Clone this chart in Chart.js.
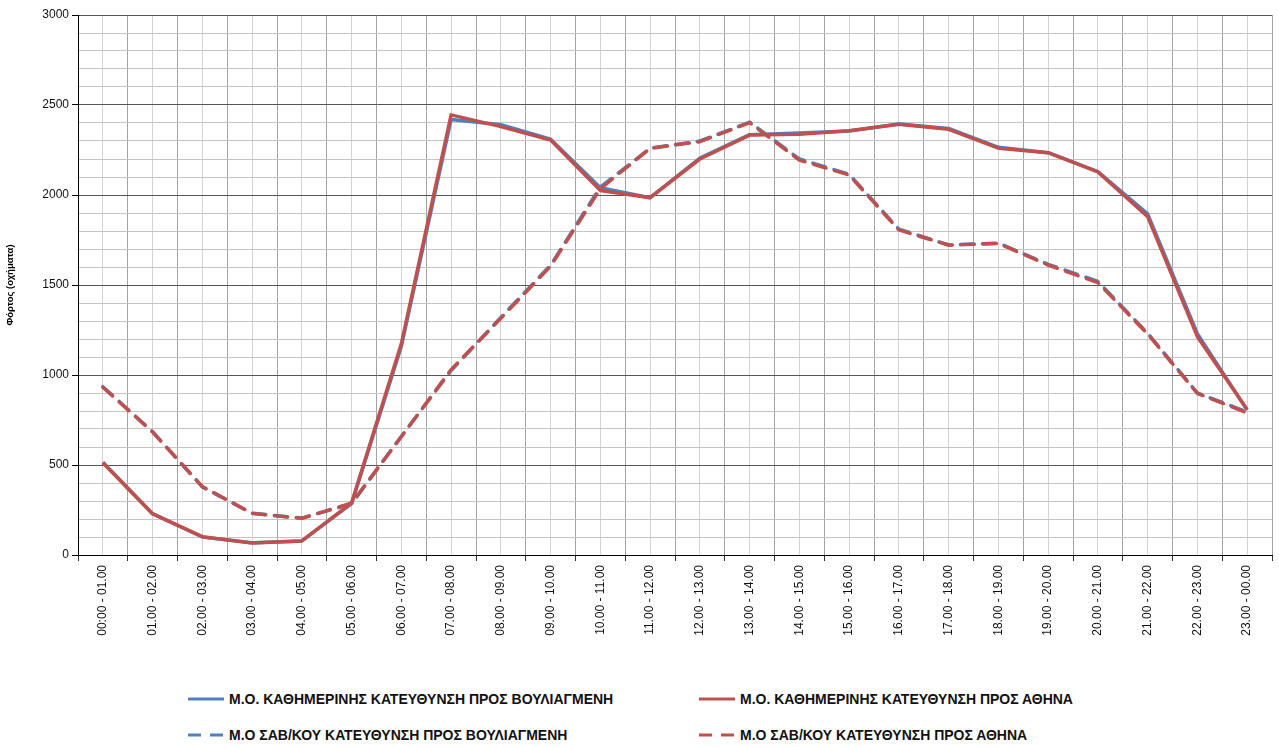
<!DOCTYPE html>
<html lang="el">
<head>
<meta charset="utf-8">
<title>Φόρτος ανά ώρα</title>
<script src="https://cdn.jsdelivr.net/npm/chart.js@4/dist/chart.umd.min.js"></script>
<style>
  html, body { margin: 0; padding: 0; background: #fff; overflow: hidden; }
  #wrap { position: absolute; left: 0; top: 0; width: 1279px; height: 665px; }
  #legend {
    position: absolute; left: 187px; top: 681px;
    display: grid; grid-template-columns: 511px auto; grid-auto-rows: 36px;
    font: bold 14px 'Liberation Sans', Arial, sans-serif; color: #111;
  }
  .item { display: flex; align-items: center; white-space: nowrap; }
  .item svg { margin-right: 4px; }
</style>
</head>
<body>
<div id="wrap"><canvas id="chart"></canvas></div>
<div id="legend"></div>
<script>
// Hour slots
const hours = [
    '00:00 - 01.00', '01.00 - 02.00', '02.00 - 03.00', '03.00 - 04.00',
    '04.00 - 05.00', '05.00 - 06.00', '06.00 - 07.00', '07.00 - 08.00',
    '08.00 - 09.00', '09.00 - 10.00', '10.00 - 11.00', '11.00 - 12.00',
    '12.00 - 13.00', '13.00 - 14.00', '14.00 - 15.00', '15.00 - 16.00',
    '16.00 - 17.00', '17.00 - 18.00', '18.00 - 19.00', '19.00 - 20.00',
    '20.00 - 21.00', '21.00 - 22.00', '22.00 - 23.00', '23.00 - 00.00'
];

// Weekday averages
const weekdayVouliagmeni = [515, 230, 100, 68, 78, 285, 1160, 2420, 2390, 2310, 2040, 1985,
    2205, 2335, 2345, 2355, 2395, 2370, 2265, 2235, 2130, 1895, 1230, 805];
const weekdayAthina = [513, 228, 102, 66, 78, 290, 1175, 2445, 2380, 2305, 2025, 1985,
    2200, 2333, 2338, 2357, 2393, 2365, 2260, 2235, 2128, 1880, 1213, 808];

// Saturday / Sunday averages
const weekendVouliagmeni = [935, 685, 378, 232, 205, 285, 660, 1025, 1320, 1610, 2045, 2260,
    2300, 2405, 2200, 2115, 1810, 1722, 1733, 1615, 1520, 1232, 900, 795];
const weekendAthina = [932, 683, 380, 231, 204, 288, 657, 1030, 1315, 1605, 2035, 2259,
    2296, 2402, 2194, 2111, 1806, 1722, 1731, 1611, 1513, 1228, 898, 790];

const yTicks = { min: 0, max: 3000, step: 100, labelEvery: 500 };

const BLUE = '#4f81bd';
const RED = '#c0504d';
const DASH = [13, 9];
const FONT = "'Liberation Sans', Arial, sans-serif";

function series(label, data, color, dashed, order) {
    return {
        label: label,
        data: data,
        borderColor: color,
        backgroundColor: color,
        borderWidth: 3.5,
        borderDash: dashed ? DASH : [],
        borderCapStyle: dashed ? 'round' : 'butt',
        borderJoinStyle: 'round',
        pointRadius: 0,
        tension: 0,
        order: order
    };
}

const datasets = [
    series('Μ.Ο. ΚΑΘΗΜΕΡΙΝΗΣ ΚΑΤΕΥΘΥΝΣΗ ΠΡΟΣ ΒΟΥΛΙΑΓΜΕΝΗ', weekdayVouliagmeni, BLUE, false, 3),
    series('Μ.Ο. ΚΑΘΗΜΕΡΙΝΗΣ ΚΑΤΕΥΘΥΝΣΗ ΠΡΟΣ ΑΘΗΝΑ', weekdayAthina, RED, false, 1),
    series('Μ.Ο ΣΑΒ/ΚΟΥ ΚΑΤΕΥΘΥΝΣΗ ΠΡΟΣ ΒΟΥΛΙΑΓΜΕΝΗ', weekendVouliagmeni, BLUE, true, 2),
    series('Μ.Ο ΣΑΒ/ΚΟΥ ΚΑΤΕΥΘΥΝΣΗ ΠΡΟΣ ΑΘΗΝΑ', weekendAthina, RED, true, 0)
];

const chart = new Chart(document.getElementById('chart'), {
    type: 'line',
    data: { labels: hours, datasets: datasets },
    options: {
        responsive: true,
        maintainAspectRatio: false,
        animation: false,
        layout: { padding: { left: 0, right: 7, top: 15, bottom: 10 } },
        plugins: {
            legend: { display: false },
            tooltip: { enabled: false }
        },
        scales: {
            x: {
                type: 'category',
                position: 'bottom',
                offset: true,
                border: { color: '#000', width: 1 },
                grid: { offset: true, color: '#a3a3a3', tickColor: '#333', tickLength: 6 },
                ticks: {
                    color: '#111', font: { family: FONT, size: 12 },
                    minRotation: 90, maxRotation: 90, autoSkip: false, padding: 4
                },
                afterFit: scale => { scale.height = 100; }
            },
            x2: {
                type: 'category',
                position: 'bottom',
                offset: true,
                border: { display: false },
                grid: { offset: false, color: '#d2d2d2', drawTicks: false },
                ticks: { display: false },
                afterFit: scale => { scale.height = 0; }
            },
            y: {
                min: yTicks.min,
                max: yTicks.max,
                border: { color: '#000', width: 1 },
                grid: {
                    color: ctx => ctx.tick.value % yTicks.labelEvery === 0 ? '#555' : '#c4c4c4',
                    tickColor: ctx => ctx.tick.value % yTicks.labelEvery === 0 ? '#000' : 'rgba(0,0,0,0)',
                    tickLength: 6
                },
                ticks: {
                    stepSize: yTicks.step,
                    autoSkip: false,
                    padding: 3,
                    color: '#111',
                    font: { family: FONT, size: 12 },
                    callback: v => v % yTicks.labelEvery === 0 ? v : ''
                },
                title: {
                    display: true,
                    text: 'Φόρτος (οχήματα)',
                    color: '#000',
                    font: { family: FONT, size: 9.5, weight: 'bold' },
                    padding: { top: 5, bottom: 0 }
                },
                afterFit: scale => { scale.width = 78; }
            }
        }
    }
});

// Legend in two columns, built from the datasets
const legend = document.getElementById('legend');
chart.data.datasets.forEach(ds => {
    const item = document.createElement('div');
    item.className = 'item';
    const dash = ds.borderDash.length ? 'stroke-dasharray="13 9"' : '';
    item.innerHTML = `<svg width="38" height="6"><line x1="1" y1="3" x2="37" y2="3" stroke="${ds.borderColor}" stroke-width="3" ${dash}/></svg><span>${ds.label}</span>`;
    legend.appendChild(item);
});
</script>
</body>
</html>
